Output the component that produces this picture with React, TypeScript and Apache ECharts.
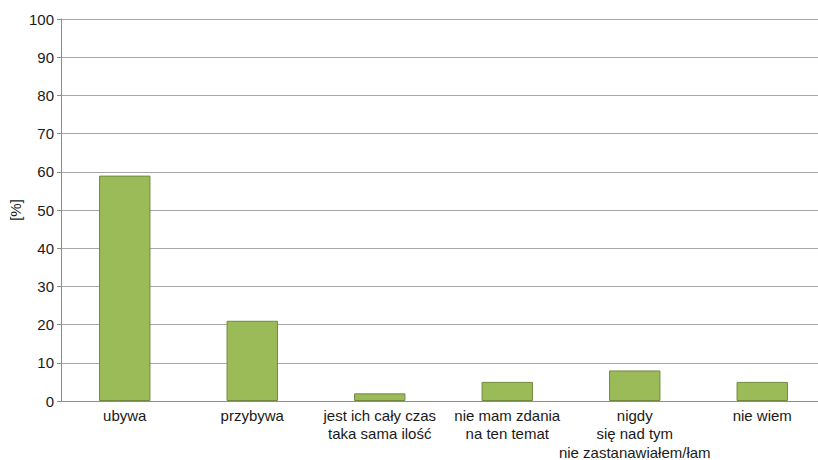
import React, { useEffect, useRef } from "react";
import * as echarts from "echarts";

const categories = [
  "ubywa",
  "przybywa",
  "jest ich cały czas\ntaka sama ilość",
  "nie mam zdania\nna ten temat",
  "nigdy\nsię nad tym\nnie zastanawiałem/łam",
  "nie wiem",
];
const values = [59, 21, 2, 5, 8, 5];
const yTicks = { min: 0, max: 100, interval: 10 };
const yAxisTitle = "[%]";

const FONT = "Liberation Sans, Arial, sans-serif";

export default function App() {
  const ref = useRef<HTMLDivElement>(null);
  useEffect(() => {
    if (!ref.current) return;
    const chart = echarts.init(ref.current, null, { renderer: "svg" });
    chart.setOption({
      animation: false,
      backgroundColor: "#ffffff",
      grid: { left: 61, right: -8, top: 19, bottom: 59, containLabel: false, outerBoundsMode: "none" },
      graphic: [
        {
          type: "text",
          x: 15,
          y: 210,
          rotation: Math.PI / 2,
          style: {
            text: yAxisTitle,
            align: "center",
            verticalAlign: "middle",
            fill: "#1a1a1a",
            fontFamily: FONT,
            fontSize: 15,
          },
        },
      ],
      xAxis: {
        type: "category",
        data: categories,
        axisLine: { lineStyle: { color: "#8c8c8c", width: 1 } },
        axisTick: { show: false },
        axisLabel: {
          interval: 0,
          color: "#1a1a1a",
          fontFamily: FONT,
          fontSize: 15,
          lineHeight: 18.5,
          margin: 5,
        },
      },
      yAxis: {
        type: "value",
        min: yTicks.min,
        max: yTicks.max,
        interval: yTicks.interval,
        axisLine: { show: true, lineStyle: { color: "#8c8c8c", width: 1 } },
        axisTick: { show: true, length: 4, lineStyle: { color: "#8c8c8c" } },
        axisLabel: {
          color: "#1a1a1a",
          fontFamily: FONT,
          fontSize: 15,
          margin: 7,
        },
        splitLine: { lineStyle: { color: "#a6a6a6", width: 1 } },
      },
      series: [
        {
          type: "bar",
          data: values,
          barWidth: "40.3%",
          itemStyle: { color: "#9bbb59", borderColor: "#71893f", borderWidth: 1 },
        },
      ],
    });
    return () => chart.dispose();
  }, []);
  return (
    <div
      ref={ref}
      style={{ position: "fixed", left: 0, top: 0, width: 818, height: 460 }}
    />
  );
}
